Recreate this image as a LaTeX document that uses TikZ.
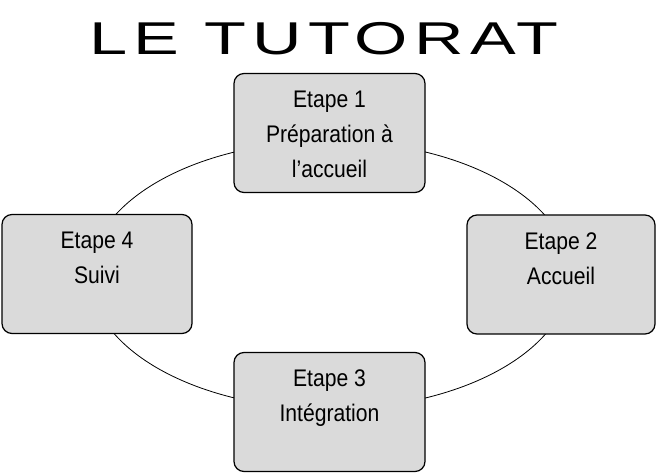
\documentclass[tikz,border=0pt]{standalone}
\usepackage{fontspec}
\setmainfont{Liberation Sans}
\newfontfamily\titrefont[LetterSpace=9]{Liberation Sans}
\usetikzlibrary{positioning}
\definecolor{boxgray}{RGB}{218,218,218}

\begin{document}
\begin{tikzpicture}[x=1pt,y=1pt,
  etape/.style={draw=black,line width=1.2pt,fill=boxgray,rounded corners=10pt,minimum width=#1,minimum height=119pt,inner sep=0pt},
  etapetexte/.style={font=\fontsize{24}{35}\selectfont,align=center,inner sep=0pt,xscale=0.88}]
\useasboundingbox (0,0) rectangle (659,474);
\node[font=\titrefont\fontsize{46}{46}\selectfont,anchor=base,xscale=1.49] (titre) at (324,419) {LE TUTORAT};

% le cycle
\draw[line width=0.8pt] (330,199) ellipse (240 and 134);

\node[etape=191pt] (etapeA) at (329.5,341) {};
\node[etape=188pt] (etapeB) at (561,199.5) {};
\node[etape=191pt] (etapeC) at (329.5,62) {};
\node[etape=190pt] (etapeD) at (97,200) {};

\node[etapetexte,below=18pt of etapeA.north] (texteA) {Etape 1\\Préparation à\\l'accueil};
\node[etapetexte,below=18pt of etapeB.north] (texteB) {Etape 2\\Accueil};
\node[etapetexte,below=18pt of etapeC.north] (texteC) {Etape 3\\Intégration};
\node[etapetexte,below=18pt of etapeD.north] (texteD) {Etape 4\\Suivi};

\end{tikzpicture}
\end{document}
